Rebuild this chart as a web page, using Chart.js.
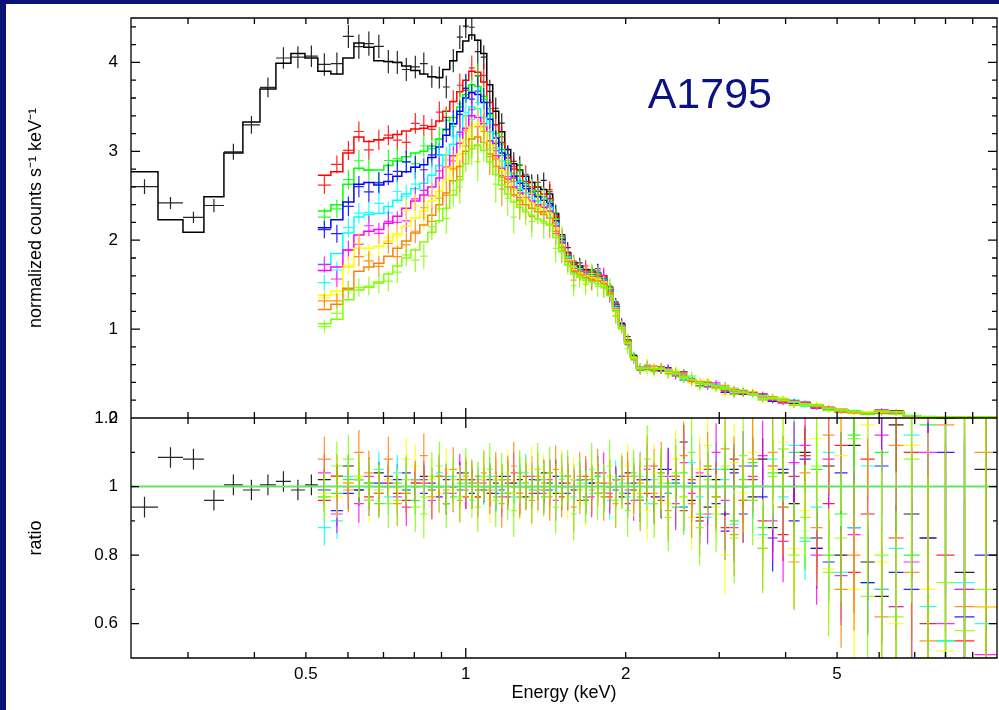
<!DOCTYPE html>
<html>
<head>
<meta charset="utf-8">
<script src="https://cdn.jsdelivr.net/npm/chart.js@4.4.1/dist/chart.umd.min.js"></script>
<style>
  html, body { margin: 0; padding: 0; background: #0a1478; overflow: hidden; }
  #sheet { position: absolute; left: 6px; top: 4px; width: 993px; height: 706px; background: #fff; }
  canvas { display: block; }
</style>
</head>
<body>
<div id="sheet"><canvas id="spec" width="993" height="706"></canvas></div>
<script>
// ── energy grid (keV, bin edges) ──
const edgesBlackLow = [0.2343, 0.2634, 0.2935, 0.3214, 0.3505, 0.3805, 0.4098, 0.4391, 0.4686, 0.4980, 0.5266];
const edgesShared = [
  0.5266, 0.5572, 0.5870, 0.6157, 0.6429, 0.6713, 0.7010, 0.7289, 0.7578, 0.7879,
  0.8194, 0.8481, 0.8783, 0.9052, 0.9330, 0.9618, 0.9871, 1.0131, 1.0397, 1.0671,
  1.0952, 1.1240, 1.1536, 1.1840, 1.2151, 1.2471, 1.2799, 1.3136, 1.3482, 1.3837,
  1.4201, 1.4575, 1.4959, 1.5352, 1.5757, 1.6171, 1.6597, 1.7034, 1.7483, 1.7943,
  1.8416, 1.8900, 1.9398, 1.9909, 2.0433, 2.0971, 2.1628, 2.2294, 2.2978, 2.3686,
  2.4414, 2.5271, 2.6163, 2.7083, 2.8037, 2.9024, 3.0180, 3.1382, 3.2633, 3.3932,
  3.5437, 3.7007, 3.8637, 4.0522, 4.2500, 4.4587, 4.6963, 4.9468, 5.2324, 5.5362,
  5.8841, 6.2517, 6.6711, 7.1483, 7.6931, 8.3176, 9.0711, 10.0
];

// ── model (normalized counts s^-1 keV^-1) ──
const modelBlackLow = [2.77, 2.23, 2.09, 2.49, 2.98, 3.33, 3.70, 3.99, 4.10, 4.05];
const modelBlack   = [3.90,3.87,4.05,4.22,4.17,4.02,4.01,4.00,3.96,3.91, 3.87,3.84,3.83,3.92,4.02,4.12,4.24,4.31,4.25,4.10, 3.75,3.45,3.22,3.02,2.86,2.79,2.72,2.65,2.60,2.57, 2.52,2.30,2.06,1.86,1.75,1.71,1.67,1.65,1.63,1.60, 1.47,1.28,1.06,0.88,0.70];
const modelRed     = [2.73,2.77,2.98,3.16,3.11,3.13,3.15,3.19,3.23,3.25, 3.26,3.28,3.34,3.45,3.56,3.67,3.80,3.90,3.89,3.78, 3.55,3.30,3.10,2.93,2.80,2.72,2.66,2.60,2.55,2.52, 2.47,2.27,2.04,1.85,1.73,1.69,1.66,1.64,1.62,1.59, 1.46,1.27,1.05,0.87,0.69];
const modelGreen   = [2.33,2.40,2.63,2.81,2.79,2.79,2.84,2.89,2.94,2.98, 3.00,3.06,3.14,3.25,3.38,3.50,3.64,3.75,3.73,3.62, 3.42,3.20,3.02,2.87,2.75,2.67,2.61,2.56,2.51,2.48, 2.43,2.24,2.02,1.83,1.71,1.67,1.64,1.62,1.60,1.57, 1.45,1.26,1.04,0.87,0.69];
const modelBlue    = [2.14,2.23,2.43,2.63,2.65,2.62,2.66,2.72,2.77,2.82, 2.85,2.93,3.05,3.18,3.31,3.45,3.60,3.66,3.64,3.55, 3.36,3.15,2.98,2.84,2.72,2.64,2.58,2.53,2.49,2.45, 2.41,2.22,2.01,1.82,1.70,1.66,1.63,1.61,1.59,1.56, 1.44,1.25,1.04,0.86,0.69];
const modelCyan    = [1.73,1.85,2.08,2.26,2.29,2.30,2.38,2.45,2.52,2.58, 2.64,2.73,2.84,2.96,3.08,3.22,3.40,3.50,3.48,3.38, 3.22,3.04,2.89,2.76,2.66,2.58,2.53,2.48,2.44,2.41, 2.37,2.19,1.99,1.81,1.69,1.65,1.62,1.60,1.58,1.55, 1.43,1.24,1.03,0.86,0.68];
const modelMagenta = [1.66,1.70,1.89,2.06,2.10,2.12,2.19,2.27,2.36,2.44, 2.51,2.60,2.70,2.82,2.95,3.09,3.26,3.40,3.38,3.28, 3.12,2.95,2.81,2.69,2.60,2.53,2.48,2.44,2.40,2.37, 2.33,2.16,1.97,1.79,1.68,1.64,1.61,1.59,1.57,1.54, 1.42,1.23,1.02,0.85,0.68];
const modelYellow  = [1.38,1.43,1.70,1.91,1.91,1.93,1.99,2.07,2.16,2.25, 2.33,2.44,2.55,2.68,2.82,2.97,3.13,3.27,3.29,3.22, 3.07,2.91,2.78,2.66,2.57,2.50,2.45,2.41,2.37,2.34, 2.30,2.14,1.95,1.78,1.67,1.63,1.60,1.58,1.56,1.53, 1.41,1.22,1.02,0.85,0.68];
const modelOrange  = [1.22,1.28,1.46,1.65,1.70,1.74,1.82,1.91,1.99,2.08, 2.17,2.28,2.40,2.53,2.67,2.83,3.00,3.14,3.16,3.10, 2.97,2.83,2.71,2.60,2.51,2.45,2.40,2.36,2.32,2.29, 2.25,2.10,1.92,1.76,1.65,1.61,1.58,1.56,1.54,1.51, 1.40,1.21,1.01,0.84,0.67];
const modelLime    = [1.06,1.11,1.33,1.44,1.47,1.53,1.62,1.71,1.80,1.89, 1.98,2.09,2.22,2.36,2.51,2.68,2.86,3.03,3.07,3.01, 2.88,2.74,2.62,2.52,2.43,2.37,2.32,2.28,2.24,2.21, 2.17,2.03,1.87,1.72,1.62,1.58,1.55,1.53,1.51,1.48, 1.38,1.20,1.00,0.84,0.67];
const modelTail    = [0.56,0.56,0.55,0.55,0.54,0.50,0.46,0.43,0.40,0.38, 0.36,0.33,0.31,0.29,0.27,0.25,0.22,0.20,0.18,0.16, 0.14,0.11,0.09,0.07,0.06,0.08,0.07,0.025,0.015,0.01, 0.01,0.01];

// ── ratio data/model, as percent deviation from 1 ──
const ratioBlackLow = [-6, 8.5, 8, -4, 0.5, -1, 0.5, 1.5, -1, 0.5];
const ratioBlack   = [2,3,6,-1,1,4,0,0,-1,1, 3,0,0,-5,0,4,4,2,-3,-1, -2,1,3,-2,1,2,-3,0,2,4, 1,-2,0,3,-1,2,-4,1,3,-2, 0,2,-3,4,-1,2,0,-3,5,-2, 1,13,-4,3,-6,2,-8,5,0,-3, 8,-12,4,-5,10,-15,6,-20,12,-22, -32,18,-8,-15,20,-25,5];
const ratioRed     = [-4,3,1,2,-3,0,1,-2,-4,2, 1,-1,3,-2,0,2,-3,1,-1,2, -2,0,2,-3,1,0,3,-2,2,-1, 4,0,-3,1,2,-4,3,0,-2,1, -3,2,0,-5,3,1,-2,6,-4,0, 3,-7,2,-9,5,0,-12,8,-4,2, -10,6,-14,3,9,-18,-5,12,-25,8, -30,-15,10,-40,-20,-45,-35];
const ratioGreen   = [-3,-2,2,3,0,-5,2,1,-2,-4, 2,-1,0,3,-3,1,2,-2,3,-1, 0,-3,2,1,-2,4,0,-1,2,-3, 1,3,-2,0,2,-1,-4,2,1,-3, 3,0,-2,1,4,-3,2,-5,3,1, -6,4,0,-8,6,-3,5,-10,2,7, -12,4,-6,10,-15,5,-20,-8,15,-28, 10,-35,-20,18,-45,-30,-50];
const ratioBlue    = [-1,-7,-2,-1,-4,1,3,2,4,0, -2,1,-3,2,0,-1,3,-2,1,0, 2,-2,-1,3,0,-3,1,2,-2,0, -1,3,1,-2,0,2,-3,1,4,-2, 0,-1,3,-2,1,-4,2,0,-3,5, 2,-6,1,-10,3,-5,-13,4,-8,6, -3,-15,5,-10,8,-18,-22,4,-12,-28, 6,-25,-30,-15,10,-38,-20];
const ratioCyan    = [-12,-10,3,2,1,5,-3,4,-1,2, -3,0,4,-2,3,-1,1,-4,2,0, 3,-1,-2,2,-3,1,4,-1,0,2, -2,-1,3,0,-3,2,1,-2,3,0, -4,2,1,-3,0,3,-5,2,4,-2, 1,-6,7,-3,-9,5,2,-11,6,-4, -14,8,-3,12,-16,-6,10,-25,-12,6, -30,-18,15,-35,-45,-28,-40];
const ratioMagenta = [4,-8,0,-5,3,-2,1,-3,-6,1, 2,-4,3,0,-2,4,-1,2,-3,1, 0,2,-3,1,4,-2,0,3,-1,-2, 2,-4,1,3,-1,0,2,-3,1,4, -2,0,3,-1,-4,2,5,-3,0,3, -5,7,-2,4,-8,10,-4,-12,6,3, 9,-10,-16,7,12,-20,8,-26,-14,-8, 15,-35,-22,10,-40,-30,-49];
const ratioYellow  = [-2,-3,1,3,-4,0,2,-1,8,6, -3,2,-2,5,-1,0,3,-3,1,2, -4,2,0,4,-2,-3,1,5,-1,3, -2,0,4,-3,2,-1,-5,3,1,-2, 3,-4,0,6,-2,1,-7,4,2,-5, 8,-3,-9,5,12,-6,-20,7,-2,10, -15,5,13,-18,-7,14,-24,9,-30,18, -22,-40,12,-30,-48,20,-35];
const ratioOrange  = [8,3,-1,10,4,-2,8,-5,-2,1, 9,-3,3,-1,5,-4,2,0,-3,4, -1,3,-5,2,6,-2,0,-4,3,1, -3,5,-2,0,-6,3,2,-1,4,-3, 1,-5,2,3,-1,-4,6,-2,4,-7, 3,9,-5,-10,6,-3,11,-14,-4,8, -18,10,-6,-22,4,-12,15,-30,-20,-8, -38,12,-25,-45,18,-35,10];
const ratioLime    = [-3,6,8,2,1,-1,-5,-4,2,-6, -8,3,6,-5,2,-3,4,1,-6,3, 5,-4,2,-2,-7,3,1,-3,5,-1, 4,-6,2,3,-8,1,-3,5,-2,-1, 6,-4,2,-7,3,-2,8,-5,1,-9, 4,-3,10,-12,2,-8,6,-15,9,-4, -18,3,11,-20,-9,6,-25,-15,14,-32, -20,-38,8,-50,-28,-42,-30];

// ── 1-sigma errors (percent), per bin, and per-spectrum scaling ──
const errBlackLow = [6, 6, 6, 6, 6, 6, 6, 6, 6, 6];
const errBase = [6.5,6.5,6.5,6.5,6.5,6.5,6.5,6.5,6.5,6.5, 6.5,6.5,6.5,6.5,6.5,6.5,6.5,6.5,6.5,6.5, 7,7,7,7,7,7,7,7,7,7, 7,7,7,7,7,7,7,7,7,7, 7,7,7,7,7,9,9,9,9,9, 9,10,10,10,10,10,12,12,12,12, 12,14,14,14,14,17,17,17,22,22, 28,28,38,48,60,75,95];
const errScale = [0.5, 0.55, 0.65, 0.7, 0.8, 0.85, 0.95, 1.0, 1.1];

// ── axes ──
const xTickLabels = [0.5, 1, 2, 5];
const xMinorTicks = [0.3, 0.4, 0.5, 0.6, 0.7, 0.8, 0.9, 2, 3, 4, 5, 6, 7, 8, 9];
const xMajorTicks = [1];
const yTickLabels = [0, 1, 2, 3, 4];
const rTickLabels = [0.6, 0.8, 1, 1.2];
const rMinorTicks = [0.7, 0.9, 1.1];

const colors = ['#000000', '#ff0000', '#00ff00', '#0000ff', '#00ffff', '#ff00ff', '#ffff00', '#ff8000', '#80ff00'];
const models = [modelBlack, modelRed, modelGreen, modelBlue, modelCyan, modelMagenta, modelYellow, modelOrange, modelLime];
const ratios = [ratioBlack, ratioRed, ratioGreen, ratioBlue, ratioCyan, ratioMagenta, ratioYellow, ratioOrange, ratioLime];

const FONT = "'Liberation Sans', Arial, Helvetica, sans-serif";
Chart.defaults.font.family = FONT;
Chart.defaults.color = '#000';

// build datasets: model histogram + data crosses (top) + ratio crosses (bottom)
const datasets = [];
colors.forEach((c, i) => {
  const withLow = i === 0;
  const edges = withLow ? edgesBlackLow.slice(0, -1).concat(edgesShared) : edgesShared;
  const model = (withLow ? modelBlackLow : []).concat(models[i], modelTail);
  const ratio = (withLow ? ratioBlackLow : []).concat(ratios[i]);
  const errs  = (withLow ? errBlackLow : []).concat(errBase);
  const steps = edges.map((e, k) => ({ x: e, y: model[Math.min(k, model.length - 1)] }));
  const top = [], bot = [];
  model.forEach((m, k) => {
    const lo = edges[k], hi = edges[k + 1];
    const r = 1 + ratio[k] / 100, er = errs[k] / 100 * errScale[i];
    top.push({ x: Math.sqrt(lo * hi), y: m * r, lo, hi, err: m * er });
    bot.push({ x: Math.sqrt(lo * hi), y: r, lo, hi, err: er });
  });
  const order = colors.length - i + 1;
  datasets.push({ data: steps, yAxisID: 'y', borderColor: c, borderWidth: 1.5, stepped: true, pointRadius: 0, order });
  datasets.push({ data: top, yAxisID: 'y', borderColor: c, showLine: false, pointRadius: 0, bars: true, order });
  datasets.push({ data: bot, yAxisID: 'y2', borderColor: c, showLine: false, pointRadius: 0, bars: true, order });
});
datasets.push({ data: [{ x: 0.2343, y: 1 }, { x: 10, y: 1 }], yAxisID: 'y2', borderColor: '#62e862', borderWidth: 2, pointRadius: 0, order: 0 });

// crosses: bin width horizontally, 1-sigma vertically
const barsPlugin = {
  id: 'bars',
  afterDatasetDraw(chart, args) {
    const ds = chart.data.datasets[args.index];
    if (!ds.bars) return;
    const { ctx, chartArea: a } = chart;
    const xs = chart.scales.x, ys = chart.scales[ds.yAxisID];
    ctx.save();
    ctx.beginPath(); ctx.rect(a.left, ys.top, a.right - a.left, ys.bottom - ys.top); ctx.clip();
    ctx.strokeStyle = ds.borderColor; ctx.lineWidth = 1.2; ctx.globalAlpha = 0.85;
    ctx.beginPath();
    ds.data.forEach(p => {
      const px = xs.getPixelForValue(p.x), py = ys.getPixelForValue(p.y);
      ctx.moveTo(xs.getPixelForValue(p.lo), py); ctx.lineTo(xs.getPixelForValue(p.hi), py);
      ctx.moveTo(px, ys.getPixelForValue(p.y - p.err)); ctx.lineTo(px, ys.getPixelForValue(p.y + p.err));
    });
    ctx.stroke();
    ctx.restore();
  }
};

// frames, inward ticks on all sides, object label
const framePlugin = {
  id: 'frame',
  afterDraw(chart) {
    const { ctx, chartArea: a, scales: { x, y, y2 } } = chart;
    ctx.save();
    ctx.strokeStyle = '#000'; ctx.lineWidth = 1.3;
    ctx.beginPath();
    const seg = (x0, y0, x1, y1) => { ctx.moveTo(x0, y0); ctx.lineTo(x1, y1); };
    [y, y2].forEach(s => {
      ctx.rect(a.left, s.top, a.right - a.left, s.bottom - s.top);
      xMinorTicks.forEach(e => { const p = x.getPixelForValue(e); seg(p, s.top, p, s.top + 6); seg(p, s.bottom, p, s.bottom - 6); });
      xMajorTicks.forEach(e => { const p = x.getPixelForValue(e); seg(p, s.top, p, s.top + 10); seg(p, s.bottom, p, s.bottom - 10); });
    });
    for (let k = 1; k < 23; k++) {
      const v = k * 0.2, p = y.getPixelForValue(v), len = (k % 5 === 0) ? 9 : 5;
      seg(a.left, p, a.left + len, p); seg(a.right, p, a.right - len, p);
    }
    rTickLabels.forEach(v => { const p = y2.getPixelForValue(v); seg(a.left, p, a.left + 8, p); seg(a.right, p, a.right - 8, p); });
    rMinorTicks.forEach(v => { const p = y2.getPixelForValue(v); seg(a.left, p, a.left + 4, p); seg(a.right, p, a.right - 4, p); });
    ctx.stroke();
    ctx.fillStyle = '#0a1283';
    ctx.font = '43px ' + FONT;
    ctx.textAlign = 'center';
    ctx.fillText('A1795', x.getPixelForValue(2.88), y.getPixelForValue(3.49));
    ctx.restore();
  }
};

// fixed axis boxes; no extra label padding so the plot frame lands where the layout padding says
const yAxisBase = {
  type: 'linear', position: 'left', stack: 'panels',
  grid: { display: false, drawTicks: false }, border: { display: false },
  afterFit: s => { s.width = 125; s.paddingTop = 0; s.paddingBottom = 0; }
};

new Chart(document.getElementById('spec'), {
  type: 'line',
  data: { datasets },
  options: {
    responsive: false, animation: false, devicePixelRatio: 1, events: [],
    layout: { padding: { left: 0, top: 14, right: 2, bottom: 0 } },
    plugins: { legend: { display: false }, tooltip: { enabled: false } },
    scales: {
      x: {
        type: 'logarithmic', position: 'bottom', min: 0.2343, max: 10,
        afterBuildTicks: s => { s.ticks = xTickLabels.map(v => ({ value: v })); },
        ticks: { autoSkip: false, maxRotation: 0, padding: 6, font: { size: 17 }, callback: v => String(v) },
        grid: { display: false, drawTicks: false }, border: { display: false },
        title: { display: true, text: 'Energy (keV)', font: { size: 18 }, padding: { top: 0, bottom: 6 } },
        afterFit: s => { s.height = 52; s.paddingLeft = 0; s.paddingRight = 0; }
      },
      // ratio panel is listed first so that the left stack puts it below the spectrum
      y2: {
        ...yAxisBase, stackWeight: 240, min: 0.5, max: 1.2,
        afterBuildTicks: s => { s.ticks = rTickLabels.map(v => ({ value: v })); },
        ticks: { autoSkip: false, padding: 13, font: { size: 17 }, callback: v => String(v) },
        title: { display: true, text: 'ratio', font: { size: 18 }, padding: { top: 19, bottom: 0 } }
      },
      y: {
        ...yAxisBase, stackWeight: 400, min: 0, max: 4.5,
        afterBuildTicks: s => { s.ticks = yTickLabels.map(v => ({ value: v })); },
        ticks: { autoSkip: false, padding: 13, font: { size: 17 }, callback: v => String(v) },
        title: { display: true, text: 'normalized counts s\u207B\u00B9 keV\u207B\u00B9', font: { size: 18 }, padding: { top: 19, bottom: 0 } }
      }
    }
  },
  plugins: [barsPlugin, framePlugin]
});
</script>
</body>
</html>
